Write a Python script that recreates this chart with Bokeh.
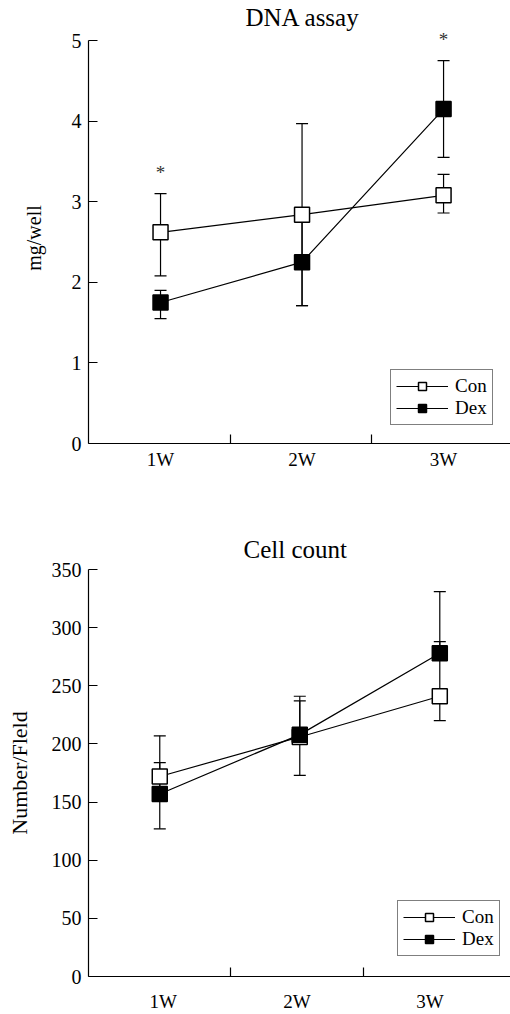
from bokeh.plotting import figure
from bokeh.models import (ColumnDataSource, Range1d, FixedTicker, Whisker, TeeHead,
                          Legend, LegendItem, LabelSet)
from bokeh.layouts import column
from bokeh.embed import file_html
from bokeh.resources import INLINE

# ---------------- data ----------------
weeks = ["1W", "2W", "3W"]
week_x = [1, 2, 3]

# DNA assay (mg/well)
dna_con = [2.62, 2.84, 3.08]
dna_con_lo = [2.08, 1.71, 2.86]
dna_con_hi = [3.10, 3.97, 3.34]
dna_dex = [1.75, 2.25, 4.15]
dna_dex_lo = [1.55, 1.71, 3.55]
dna_dex_hi = [1.90, 2.76, 4.75]
dna_star_x = [1, 3]
dna_star_y = [3.36, 5.01]
dna_yticks = [0, 1, 2, 3, 4, 5]

# Cell count (Number/Fleld)
cell_con = [172, 206, 241]
cell_con_lo = [160, 173, 220]
cell_con_hi = [207, 241, 288]
cell_dex = [157, 208, 278]
cell_dex_lo = [127, 205, 275]
cell_dex_hi = [184, 237, 331]
cell_yticks = [0, 50, 100, 150, 200, 250, 300, 350]

# axis label / separator positions
dna_label_pos = [1, 2, 3]
dna_sep_pos = [1.495, 2.49]
cell_label_pos = [1.024, 1.98, 2.93]
cell_sep_pos = [1.507, 2.455]

FONT = "Liberation Serif"


def make_panel(title, title_offset, title_standoff, ylabel, y_end, y_top, yticks,
               x_end, label_pos, sep_pos, con, con_lo, con_hi, dex, dex_lo, dex_hi,
               height, top, bottom, legend_xy, xlabel_standoff,
               ylabel_size, ylabel_standoff, stars=None):
    p = figure(width=510, height=height, title=title,
               x_range=Range1d(0.491, x_end), y_range=Range1d(0, y_top),
               output_backend="svg", toolbar_location=None,
               min_border_left=88, min_border_right=0,
               min_border_top=top, min_border_bottom=bottom)
    p.outline_line_color = None
    p.xgrid.visible = False
    p.ygrid.visible = False
    p.background_fill_color = "white"
    p.border_fill_color = "white"

    # title
    p.title.align = "left"
    p.title.offset = title_offset
    p.title.standoff = title_standoff
    p.title.text_font = FONT
    p.title.text_font_size = "25px"
    p.title.text_font_style = "normal"
    p.title.text_color = "black"

    # x axis
    xa = p.xaxis[0]
    xa.ticker = FixedTicker(ticks=label_pos, minor_ticks=sep_pos)
    xa.major_label_overrides = {pos: w for pos, w in zip(label_pos, weeks)}
    xa.major_tick_in = 0
    xa.major_tick_out = 0
    xa.minor_tick_in = 9
    xa.minor_tick_out = 0
    xa.minor_tick_line_color = "black"
    xa.minor_tick_line_width = 1.2
    xa.axis_line_color = "black"
    xa.axis_line_width = 1.2
    xa.major_label_text_font = FONT
    xa.major_label_text_font_size = "19px"
    xa.major_label_text_color = "black"
    xa.major_label_standoff = xlabel_standoff

    # y axis
    ya = p.yaxis[0]
    ya.ticker = FixedTicker(ticks=yticks)
    ya.bounds = (0, y_end)
    ya.major_tick_in = 9
    ya.major_tick_out = 0
    ya.major_tick_line_color = "black"
    ya.major_tick_line_width = 1.2
    ya.minor_tick_in = 0
    ya.minor_tick_out = 0
    ya.axis_line_color = "black"
    ya.axis_line_width = 1.2
    ya.major_label_text_font = FONT
    ya.major_label_text_font_size = "20px"
    ya.major_label_text_color = "black"
    ya.major_label_standoff = 7
    ya.axis_label = ylabel
    ya.axis_label_text_font = FONT
    ya.axis_label_text_font_size = ylabel_size
    ya.axis_label_text_font_style = "normal"
    ya.axis_label_text_color = "black"
    ya.axis_label_standoff = ylabel_standoff

    # error bars (under the markers)
    for lo, hi in ((con_lo, con_hi), (dex_lo, dex_hi)):
        src = ColumnDataSource(dict(x=week_x, lo=lo, hi=hi))
        w = Whisker(source=src, base="x", lower="lo", upper="hi",
                    dimension="height", line_color="black", line_width=1.2,
                    level="underlay",
                    upper_head=TeeHead(size=12, line_color="black", line_width=1.2),
                    lower_head=TeeHead(size=12, line_color="black", line_width=1.2))
        p.add_layout(w)

    lc = p.line(week_x, con, line_color="black", line_width=1.2)
    ld = p.line(week_x, dex, line_color="black", line_width=1.2)
    sc = p.scatter(week_x, con, marker="square", size=15, fill_color="white",
                   line_color="black", line_width=1.5)
    sd = p.scatter(week_x, dex, marker="square", size=15, fill_color="black",
                   line_color="black", line_width=1.5)

    legend = Legend(items=[LegendItem(label="Con", renderers=[lc, sc]),
                           LegendItem(label="Dex", renderers=[ld, sd])],
                    location=legend_xy, margin=0, padding=5, spacing=0,
                    glyph_width=52, glyph_height=20, label_height=20,
                    label_width=32, label_standoff=7,
                    label_text_font=FONT, label_text_font_size="19px",
                    label_text_color="black",
                    border_line_color="black", border_line_width=1.3,
                    background_fill_color="white", background_fill_alpha=1.0)
    p.add_layout(legend)

    if stars is not None:
        sx, sy = stars
        ssrc = ColumnDataSource(dict(x=sx, y=sy, t=["*"] * len(sx)))
        p.add_layout(LabelSet(x="x", y="y", text="t", source=ssrc,
                              text_align="center", text_baseline="middle",
                              text_font=FONT, text_font_size="19px",
                              text_color="#333333"))
    return p


p1 = make_panel("DNA assay", 157, 3, "mg/well", 5, 5.1, dna_yticks, 3.473,
                dna_label_pos, dna_sep_pos,
                dna_con, dna_con_lo, dna_con_hi, dna_dex, dna_dex_lo, dna_dex_hi,
                height=490, top=32, bottom=47, legend_xy=(302, 18),
                xlabel_standoff=5, ylabel_size="20px", ylabel_standoff=24,
                stars=(dna_star_x, dna_star_y))

p2 = make_panel("Cell count", 155, 14, "Number/Fleld", 350, 350, cell_yticks, 3.505,
                cell_label_pos, cell_sep_pos,
                cell_con, cell_con_lo, cell_con_hi, cell_dex, cell_dex_lo, cell_dex_hi,
                height=524, top=79, bottom=38, legend_xy=(309, 20),
                xlabel_standoff=14, ylabel_size="22px", ylabel_standoff=17)

layout = column(p1, p2)
open("out.html", "w").write(file_html(layout, INLINE))
